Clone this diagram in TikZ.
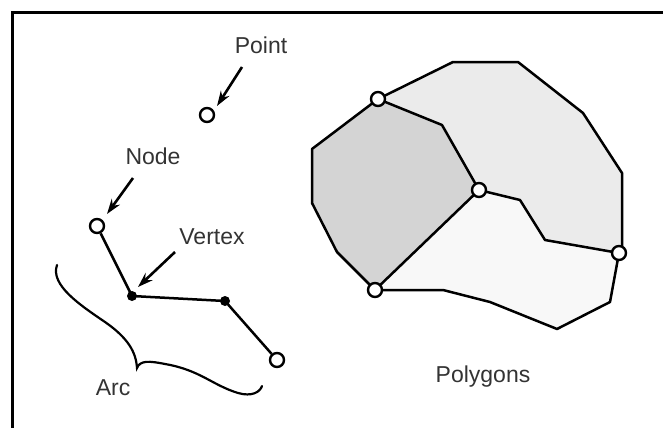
\documentclass[tikz,border=0pt]{standalone}
\usepackage{fontspec}
\setmainfont{Liberation Sans}
\usetikzlibrary{arrows.meta}
\definecolor{txt}{HTML}{333333}
\definecolor{darkpoly}{HTML}{D4D4D4}
\definecolor{lightpoly}{HTML}{EBEBEB}
\definecolor{palepoly}{HTML}{F8F8F8}
\tikzset{
  opencirc/.style={circle,draw=black,fill=white,line width=2.4pt,minimum size=14pt,inner sep=0pt},
  dotvtx/.style={circle,fill=black,minimum size=10pt,inner sep=0pt},
  lbl/.style={text=txt,font=\fontsize{23}{26}\selectfont,inner sep=0pt},
  pointer/.style={line width=2.6pt,-{Stealth[length=15pt,width=10pt]}},
  edge/.style={line width=2.5pt,line join=round},
  frameline/.style={line width=3pt}
}
\begin{document}
\begin{tikzpicture}[x=1pt,y=-1pt]
\useasboundingbox (0,0) rectangle (663,428);
% frame
\coordinate (f1) at (663,13);
\coordinate (f2) at (12,13);
\coordinate (f3) at (12,428);
\draw[frameline] (f1) -- (f2) -- (f3);

% polygon corners
\coordinate (A) at (378,99);
\coordinate (B) at (479,190);
\coordinate (C) at (375,290);
\coordinate (D) at (619,253);
\coordinate (p1) at (442,125);
\coordinate (p2) at (337,252);
\coordinate (p3) at (312,203);
\coordinate (p4) at (312,149);
\coordinate (q1) at (453,62);
\coordinate (q2) at (518,62);
\coordinate (q3) at (583,113);
\coordinate (q4) at (622,173);
\coordinate (q5) at (622,248);
\coordinate (q6) at (545,240);
\coordinate (q7) at (520,200);
\coordinate (r1) at (610,302);
\coordinate (r2) at (557,329);
\coordinate (r3) at (490,302);
\coordinate (r4) at (443,290);

\fill[darkpoly] (A) -- (p1) -- (B) -- (C) -- (p2) -- (p3) -- (p4) -- cycle;
\fill[lightpoly] (A) -- (q1) -- (q2) -- (q3) -- (q4) -- (q5) -- (D) -- (q6) -- (q7) -- (B) -- (p1) -- cycle;
\fill[palepoly] (B) -- (q7) -- (q6) -- (D) -- (r1) -- (r2) -- (r3) -- (r4) -- (C) -- cycle;

\draw[edge] (A) -- (p1) -- (B) -- (C) -- (p2) -- (p3) -- (p4) -- (A);
\draw[edge] (A) -- (q1) -- (q2) -- (q3) -- (q4) -- (q5) -- (D);
\draw[edge] (B) -- (q7) -- (q6) -- (D) -- (r1) -- (r2) -- (r3) -- (r4) -- (C);

\node[opencirc] (nA) at (A) {};
\node[opencirc] (nB) at (B) {};
\node[opencirc] (nC) at (C) {};
\node[opencirc] (nD) at (D) {};

% arc with vertices
\node[opencirc] (node1) at (97,226) {};
\node[dotvtx] (v1) at (132,296) {};
\node[dotvtx] (v2) at (225,301) {};
\node[opencirc] (node2) at (277,360) {};
\draw[edge] (node1) -- (v1.center) -- (v2.center) -- (node2);

% point
\node[opencirc] (pt) at (207,115) {};

% labels
\node[lbl] (lpoint) at (261,45) {Point};
\node[lbl] (lnode) at (153,156) {Node};
\node[lbl] (lvertex) at (212,237) {Vertex};
\node[lbl] (larc) at (113,388) {Arc};
\node[lbl] (lpoly) at (483,377) {Polygons};

% pointer arrows
\coordinate (s1) at (242,67);
\coordinate (t1) at (217,106);
\draw[pointer] (s1) -- (t1);
\coordinate (s2) at (133,178);
\coordinate (t2) at (107,214);
\draw[pointer] (s2) -- (t2);
\coordinate (s3) at (175,252);
\coordinate (t3) at (138,287);
\draw[pointer] (s3) -- (t3);

% brace-like arc
\coordinate (b0) at (57,265);
\coordinate (bm) at (137,368);
\coordinate (b1) at (262,386);
\draw[line width=2.2pt,line cap=round] (b0) .. controls (50,285) and (80,305) .. (105,322)
  .. controls (128,338) and (136,352) .. (bm)
  .. controls (140,360) and (150,361) .. (165,364)
  .. controls (200,370) and (212,385) .. (238,393)
  .. controls (252,397) and (260,392) .. (b1);
\end{tikzpicture}
\end{document}
